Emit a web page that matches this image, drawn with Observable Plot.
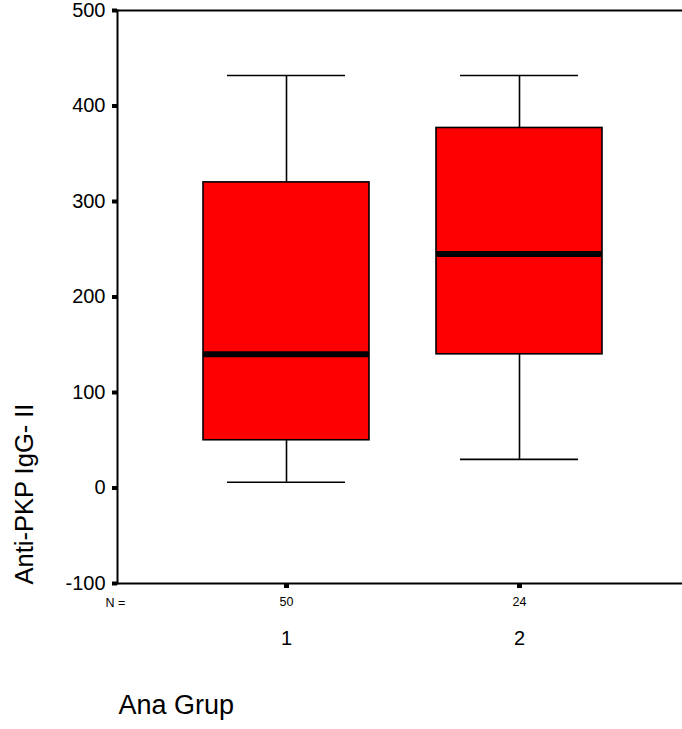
<!DOCTYPE html>
<html>
<head>
<meta charset="utf-8">
<script src="https://cdn.jsdelivr.net/npm/d3@7"></script>
<script src="https://cdn.jsdelivr.net/npm/@observablehq/plot@0.6"></script>
<style>
  html, body { margin: 0; padding: 0; background: #fff; overflow: hidden; }
  svg { display: block; font-family: "Liberation Sans", Arial, Helvetica, sans-serif; }
</style>
</head>
<body>
<div id="chart"></div>
<script>
// Categories and statistics
const groups = [1, 2];
const counts = [50, 24];
const lowWhisker = [6, 30];
const q1 = [50, 140];
const median = [140, 245];
const q3 = [320, 377];
const highWhisker = [432, 432];
const yTicks = [-100, 0, 100, 200, 300, 400, 500];
const yLabel = "Anti-PKP IgG- II";
const xLabel = "Ana Grup";
const nLabel = "N =";

const data = groups.map((g, i) => ({
  group: g, n: counts[i], lo: lowWhisker[i], q1: q1[i],
  median: median[i], q3: q3[i], hi: highWhisker[i]
}));

const chart = Plot.plot({
  width: 682,
  height: 729,
  marginLeft: 117,
  marginRight: 0,
  marginTop: 10,
  marginBottom: 146,
  style: { fontFamily: '"Liberation Sans", Arial, sans-serif', color: "#000", background: "#fff" },
  x: { type: "band", domain: groups, paddingInner: 0.2876, paddingOuter: 0.356, align: 0.52 },
  y: { domain: [-100, 500] },
  marks: [
    Plot.ruleX(data, { x: "group", y1: "lo", y2: "q1", stroke: "#000", strokeWidth: 1.6 }),
    Plot.ruleX(data, { x: "group", y1: "q3", y2: "hi", stroke: "#000", strokeWidth: 1.6 }),
    Plot.tickY(data, { x: "group", y: "lo", insetLeft: 24, insetRight: 24, stroke: "#000", strokeWidth: 1.6 }),
    Plot.tickY(data, { x: "group", y: "hi", insetLeft: 24, insetRight: 24, stroke: "#000", strokeWidth: 1.6 }),
    Plot.barY(data, { x: "group", y1: "q1", y2: "q3", fill: "#ff0000", stroke: "#000", strokeWidth: 1.6 }),
    Plot.tickY(data, { x: "group", y: "median", stroke: "#000", strokeWidth: 6 }),
    Plot.ruleY([500, -100], { stroke: "#000", strokeWidth: 2 }),
    Plot.frame({ anchor: "left", stroke: "#000", strokeWidth: 2 }),
    Plot.axisY({ ticks: yTicks, tickSize: 5, strokeWidth: 4, tickPadding: 7, fontSize: 20,
      tickFormat: (d) => String(d), label: null }),
    Plot.axisX({ tickSize: 5, strokeWidth: 5, tickPadding: 9, fontSize: 12.5,
      tickFormat: (d) => String(counts[groups.indexOf(d)]), label: null }),
    Plot.axisX({ tickSize: 0, tickPadding: 47, fontSize: 20, label: null }),
    Plot.text([nLabel], { frameAnchor: "bottom-left", textAnchor: "middle", lineAnchor: "top", dx: -2, dy: 15, fontSize: 12.5, fill: "#000" }),
    Plot.text([yLabel], { frameAnchor: "left", textAnchor: "middle", rotate: -90, lineAnchor: "middle", dx: -93, dy: 197, fontSize: 25.5, fill: "#000" }),
    Plot.text([xLabel], { frameAnchor: "bottom-left", textAnchor: "start", lineAnchor: "top", dx: 1, dy: 111, fontSize: 27, fill: "#000" })
  ]
});
document.getElementById("chart").appendChild(chart);
</script>
</body>
</html>
